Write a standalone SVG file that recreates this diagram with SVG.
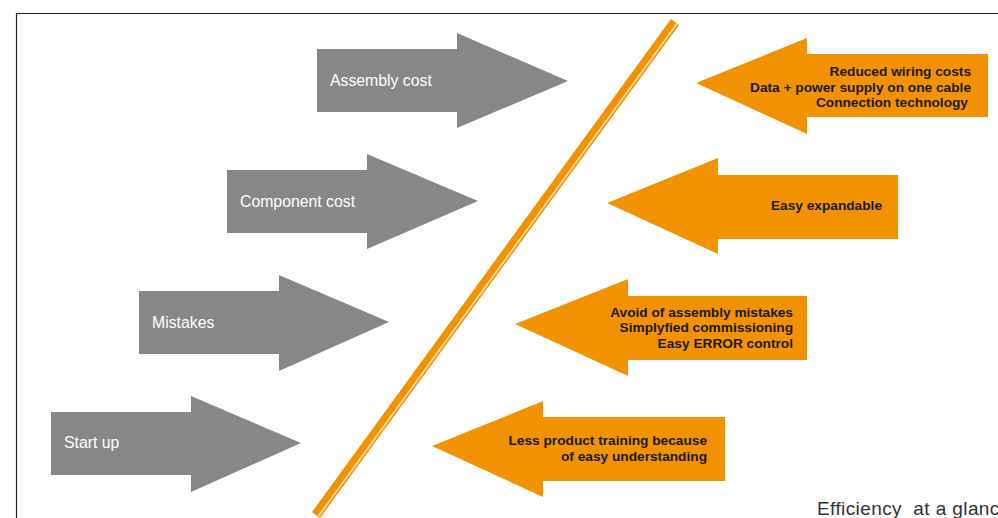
<svg xmlns="http://www.w3.org/2000/svg" width="998" height="518" viewBox="0 0 998 518">
<style>
.g{fill:#878787}
.o{fill:#F39200}
.gt{font-family:"Liberation Sans",Arial,sans-serif;font-size:15.8px;fill:#ffffff}
.ot{font-family:"Liberation Sans",Arial,sans-serif;font-size:13.7px;font-weight:bold;fill:#1a1a1a;text-anchor:end}
.cap{font-family:"Liberation Sans",Arial,sans-serif;font-size:19px;letter-spacing:0.4px;fill:#333333}
</style>
<rect width="998" height="518" fill="#ffffff"/>
<g id="frame"><path d="M16.5,518 V13.5 H998" fill="none" stroke="#222" stroke-width="1.2"/></g>
<g id="divider">
<line x1="316" y1="515" x2="675" y2="22" stroke="#F39200" stroke-width="10"/>
<line x1="318.5" y1="516" x2="677.5" y2="23" stroke="#FBE3B8" stroke-width="1.6"/>
</g>
<g id="assembly-cost"><polygon class="g" points="317,49 457,49 457,33 568,81 457,128 457,112 317,112"/><text class="gt" x="330" y="86">Assembly cost</text></g>
<g id="component-cost"><polygon class="g" points="227,170 367,170 367,154 478,201 367,249 367,233 227,233"/><text class="gt" x="240" y="207">Component cost</text></g>
<g id="mistakes"><polygon class="g" points="139,291 279,291 279,275 389,322 279,371 279,354 139,354"/><text class="gt" x="152" y="328">Mistakes</text></g>
<g id="start-up"><polygon class="g" points="51,412 191,412 191,396 301,443 191,492 191,475 51,475"/><text class="gt" x="64" y="448">Start up</text></g>
<g id="wiring"><polygon class="o" points="988,54 807,54 807,38 696,83 807,134 807,117 988,117"/><text class="ot" x="971" y="76">Reduced wiring costs</text><text class="ot" x="971" y="92">Data + power supply on one cable</text><text class="ot" x="968" y="107">Connection technology</text></g>
<g id="expandable"><polygon class="o" points="898,175 718,175 718,158 607,203 718,254 718,239 898,239"/><text class="ot" x="882" y="210">Easy expandable</text></g>
<g id="assembly-mistakes"><polygon class="o" points="807,296 628,296 628,279 515,324 628,376 628,360 807,360"/><text class="ot" x="793" y="317">Avoid of assembly mistakes</text><text class="ot" x="793" y="332">Simplyfied commissioning</text><text class="ot" x="793" y="348">Easy ERROR control</text></g>
<g id="training"><polygon class="o" points="725,417 543,417 543,401 432,446 543,497 543,481 725,481"/><text class="ot" x="707" y="445">Less product training because</text><text class="ot" x="707" y="461">of easy understanding</text></g>
<g id="connectors"></g>
<text class="cap" x="817" y="515">Efficiency&#160; at a glance</text>
</svg>
